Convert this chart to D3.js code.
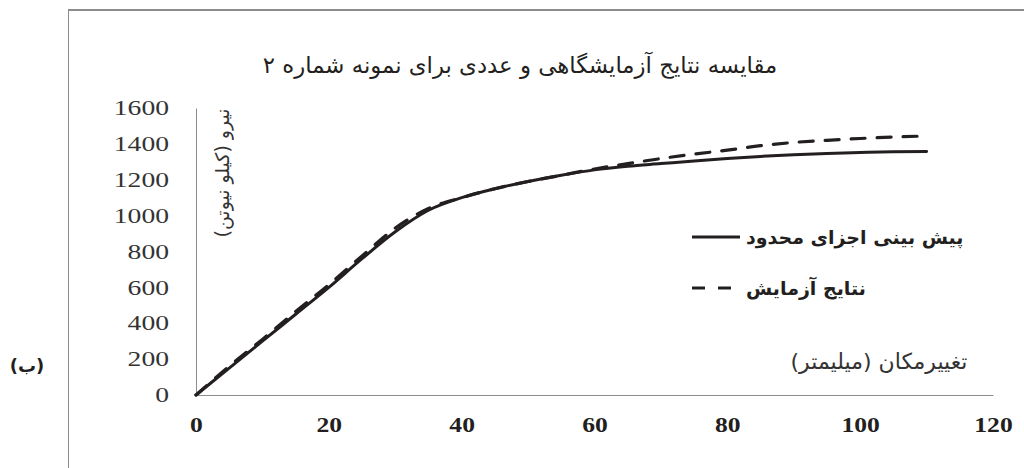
<!DOCTYPE html>
<html>
<head>
<meta charset="utf-8">
<script src="https://cdn.jsdelivr.net/npm/d3@7"></script>
<style>
  html, body { margin: 0; padding: 0; background: #fff; }
  svg { display: block; }
</style>
</head>
<body>
<svg id="chart" width="1024" height="468"></svg>
<script>
// Displacement (mm) sampled along both curves
const displacement = [0, 5, 10, 15, 20, 25, 30, 35, 40, 45, 50, 55, 60, 65, 70, 75, 80, 85, 90, 95, 100, 105, 110];
// Finite element prediction (kN)
const feForce = [0, 150, 300, 450, 600, 760, 910, 1030, 1100, 1150, 1190, 1225, 1255, 1275, 1290, 1305, 1318, 1330, 1340, 1347, 1352, 1356, 1358];
// Test results (kN)
const testForce = [0, 160, 310, 465, 615, 775, 930, 1040, 1100, 1150, 1190, 1225, 1260, 1290, 1318, 1343, 1365, 1390, 1408, 1420, 1430, 1438, 1444];

const xTicks = [0, 20, 40, 60, 80, 100, 120];
const yTicks = [0, 200, 400, 600, 800, 1000, 1200, 1400, 1600];

const titleText = "مقایسه نتایج آزمایشگاهی و عددی برای نمونه شماره ۲";
const yTitle = "نیرو (کیلو نیوتن)";
const xTitle = "تغییرمکان (میلیمتر)";
const seriesNames = ["پیش بینی اجزای محدود", "نتایج آزمایش"];
const panelLabel = "(ب)";

const svg = d3.select("#chart");
const ink = "#231f20";
const axisGrey = "#8c8c8c";
const faFont = "'DejaVu Sans', sans-serif";
const numFont = "'Liberation Serif', 'Times New Roman', 'DejaVu Serif', serif";

const x = d3.scaleLinear().domain([0, 120]).range([196, 993]);
const y = d3.scaleLinear().domain([0, 1600]).range([395, 108]);

// outer frame: top and left rules
svg.append("line").attr("x1", 68).attr("x2", 1024).attr("y1", 10).attr("y2", 10)
  .attr("stroke", axisGrey).attr("stroke-width", 2);
svg.append("line").attr("x1", 68.5).attr("x2", 68.5).attr("y1", 9).attr("y2", 468)
  .attr("stroke", axisGrey).attr("stroke-width", 1);

// y axis
const yAxis = svg.append("g").attr("transform", `translate(${x(0)},0)`)
  .call(d3.axisLeft(y).tickValues(yTicks).tickSize(0).tickPadding(27).tickFormat(d3.format("d")));
yAxis.attr("font-family", numFont).attr("font-size", 21);
yAxis.select(".domain").attr("stroke", axisGrey).attr("stroke-width", 1);
yAxis.selectAll("text")
  .style("font-family", numFont)
  .attr("fill", "#333")
  .attr("textLength", d => String(d).length * 13.8)
  .attr("lengthAdjust", "spacingAndGlyphs");

// x axis
const xAxis = svg.append("g").attr("transform", `translate(0,${y(0)})`)
  .call(d3.axisBottom(x).tickValues(xTicks).tickSize(0).tickPadding(22).tickFormat(d3.format("d")));
xAxis.attr("font-family", numFont).attr("font-size", 21).attr("font-weight", "bold");
xAxis.select(".domain").attr("stroke", axisGrey).attr("stroke-width", 1);
xAxis.selectAll("text")
  .style("font-family", numFont)
  .attr("fill", ink)
  .attr("textLength", d => String(d).length * 12.8)
  .attr("lengthAdjust", "spacingAndGlyphs");

// curves
const line = d3.line().x(d => x(d[0])).y(d => y(d[1])).curve(d3.curveMonotoneX);
svg.append("path")
  .datum(displacement.map((d, i) => [d, testForce[i]]))
  .attr("d", line).attr("fill", "none").attr("stroke", ink)
  .attr("stroke-width", 3.2).attr("stroke-dasharray", "14,12").attr("stroke-linecap", "round");
svg.append("path")
  .datum(displacement.map((d, i) => [d, feForce[i]]))
  .attr("d", line).attr("fill", "none").attr("stroke", ink)
  .attr("stroke-width", 3).attr("stroke-linecap", "round");

// title
svg.append("text").attr("x", 520).attr("y", 73)
  .attr("text-anchor", "middle").attr("direction", "rtl")
  .attr("font-family", faFont).attr("font-size", 22.8).attr("fill", ink)
  .text(titleText);

// axis titles
svg.append("text")
  .attr("transform", "translate(229,173) rotate(-90)")
  .attr("text-anchor", "middle").attr("direction", "rtl")
  .attr("font-family", faFont).attr("font-size", 19).attr("fill", "#333")
  .text(yTitle);
svg.append("text").attr("x", 879).attr("y", 369)
  .attr("text-anchor", "middle").attr("direction", "rtl")
  .attr("font-family", faFont).attr("font-size", 22).attr("fill", "#333")
  .text(xTitle);

// legend
const legend = svg.append("g");
const legendRows = [
  { name: seriesNames[0], dash: null, y: 237 },
  { name: seriesNames[1], dash: "13,13", y: 288 }
];
legendRows.forEach(r => {
  legend.append("line").attr("x1", 692).attr("x2", 740).attr("y1", r.y).attr("y2", r.y)
    .attr("stroke", ink).attr("stroke-width", 3)
    .attr("stroke-dasharray", r.dash);
  legend.append("text").attr("x", 746).attr("y", r.y + 7)
    .attr("text-anchor", "end").attr("direction", "rtl")
    .attr("font-family", faFont).attr("font-size", 19).attr("font-weight", "bold").attr("fill", ink)
    .text(r.name);
});

// panel label
svg.append("text").attr("x", 27).attr("y", 372)
  .attr("text-anchor", "middle")
  .attr("font-family", faFont).attr("font-size", 18).attr("font-weight", "bold").attr("fill", ink)
  .text(panelLabel);
</script>
</body>
</html>
